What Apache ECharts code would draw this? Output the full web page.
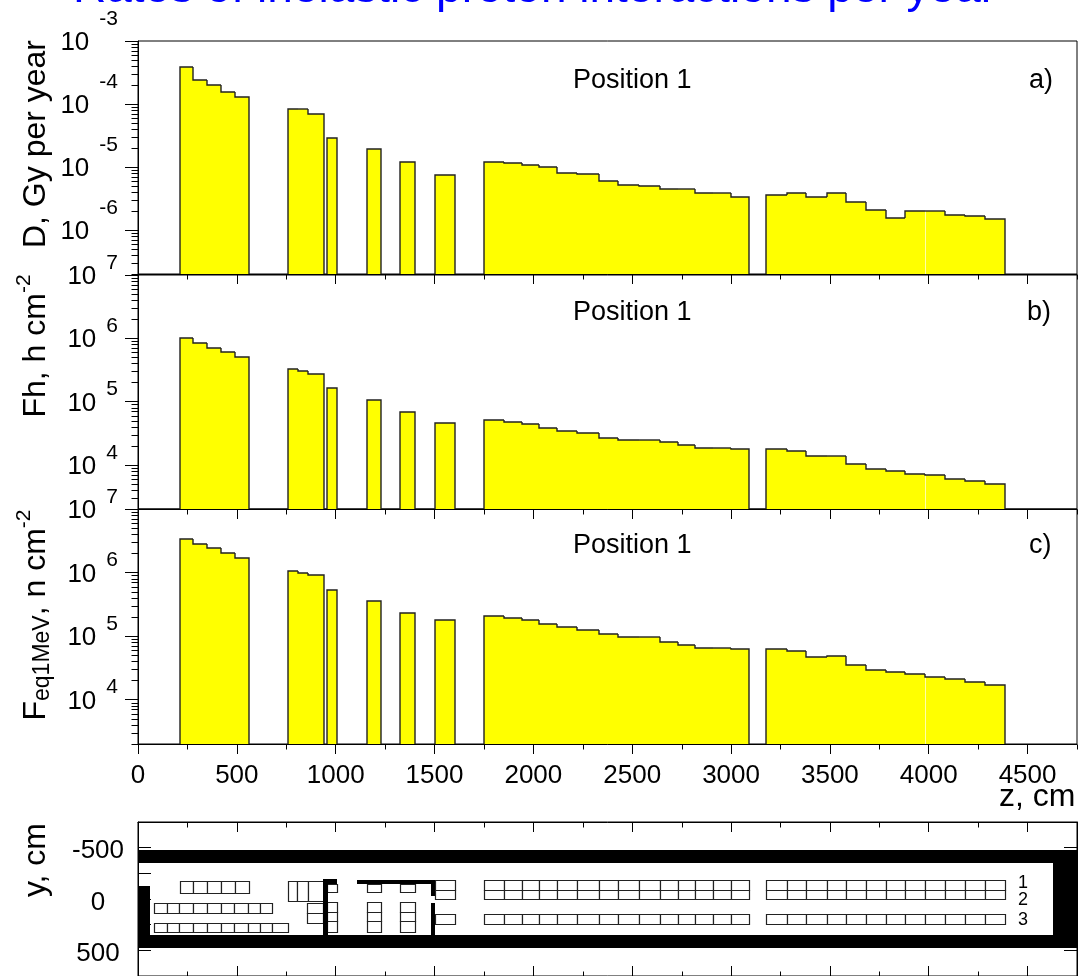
<!DOCTYPE html>
<html>
<head>
<meta charset="utf-8">
<style>html,body{margin:0;padding:0;background:#fff}#main{width:1078px;height:976px}</style>
<script src="https://cdn.jsdelivr.net/npm/echarts@6/dist/echarts.min.js"></script>
</head>
<body>
<div id="main"></div>
<script>
var dom = document.getElementById('main');
var myChart = echarts.init(dom, null, { renderer: 'canvas' });

// detector blocks along z, cm
const binEdges = [
  [210, 280, 350, 420, 490, 560],
  [760, 810, 860, 940],
  [955, 1005],
  [1157, 1228],
  [1326, 1399],
  [1502, 1603],
  [1750, 1850, 1940, 2030, 2120, 2220, 2330, 2430, 2535, 2640, 2730, 2820, 2910, 3000, 3090],
  [3178, 3282, 3380, 3483, 3582, 3683, 3783, 3882, 3983, 4082, 4185, 4283, 4385]
];
const dose = [
  [3.9e-4, 2.38e-4, 1.98e-4, 1.53e-4, 1.29e-4],
  [8.2e-5, 8.2e-5, 6.9e-5],
  [2.9e-5],
  [1.95e-5],
  [1.2e-5],
  [7.5e-6],
  [1.2e-5, 1.14e-5, 1.09e-5, 9.9e-6, 7.9e-6, 7.8e-6, 6.0e-6, 5.2e-6, 4.9e-6, 4.4e-6, 4.5e-6, 3.9e-6, 3.8e-6, 3.3e-6],
  [3.6e-6, 3.8e-6, 3.3e-6, 3.8e-6, 2.8e-6, 2.07e-6, 1.57e-6, 2.03e-6, 2.03e-6, 1.75e-6, 1.67e-6, 1.48e-6]
];
const hadrons = [
  [1.0e6, 8.4e5, 7.1e5, 6.0e5, 5.1e5],
  [3.26e5, 3.0e5, 2.77e5],
  [1.64e5],
  [1.06e5],
  [6.9e4],
  [4.5e4],
  [5.1e4, 4.7e4, 4.45e4, 3.8e4, 3.4e4, 3.16e4, 2.64e4, 2.43e4, 2.43e4, 2.28e4, 2.05e4, 1.84e4, 1.84e4, 1.8e4],
  [1.8e4, 1.63e4, 1.37e4, 1.37e4, 1.03e4, 8.5e3, 8.1e3, 7.2e3, 6.8e3, 5.9e3, 5.45e3, 4.9e3]
];
const neutrons = [
  [3.4e6, 2.8e6, 2.39e6, 2.04e6, 1.7e6],
  [1.07e6, 9.7e5, 9.3e5],
  [5.4e5],
  [3.6e5],
  [2.3e5],
  [1.82e5],
  [2.05e5, 1.9e5, 1.77e5, 1.53e5, 1.38e5, 1.25e5, 1.06e5, 9.7e4, 9.7e4, 8.1e4, 7.3e4, 6.4e4, 6.4e4, 6.2e4],
  [6.2e4, 5.8e4, 4.75e4, 4.9e4, 3.56e4, 2.93e4, 2.72e4, 2.5e4, 2.3e4, 2.09e4, 1.87e4, 1.72e4]
];

const zMajor = [0, 500, 1000, 1500, 2000, 2500, 3000, 3500, 4000, 4500];
const zMinor = [250, 750, 1250, 1750, 2250, 2750, 3250, 3750, 4250, 4750];
const doseDecades = [1e-3, 1e-4, 1e-5, 1e-6];
const fluxDecades = [1e7, 1e6, 1e5, 1e4];
const layoutTicks = [-500, -250, 0, 250, 500];
const layoutLabels = [-500, 0, 500];
const seamZ = 3983;

// tunnel walls and shielding in the layout panel: z0, y0, z1, y1
const walls = [
  [0, -480, 4750, -350],
  [0, 350, 4750, 480],
  [0, -125, 60, 350],
  [4630, -480, 4750, 480],
  [938, -190, 959, 350],
  [938, -190, 1005, -150],
  [1106, -184, 1504, -148],
  [1481, -184, 1504, -32],
  [1481, 39, 1504, 350]
];
// rows of detector boxes: z edges, then y bounds of each row
const lowerEdges = [82, 145, 209, 279, 349, 419, 488, 558, 619, 680, 758];
const boxRows = [
  { edges: binEdges[0], y: [-171, -58] },
  { edges: lowerEdges.slice(0, 10), y: [42, 136] },
  { edges: lowerEdges, y: [235, 326] },
  { edges: [760, 803, 860, 940], y: [-171, 16] },
  { edges: [857, 938], y: [42, 136] },
  { edges: [857, 938], y: [136, 235] },
  { edges: binEdges[2], y: [-145, -65] },
  { edges: binEdges[2], y: [32, 123] },
  { edges: binEdges[2], y: [123, 216] },
  { edges: binEdges[2], y: [216, 326] },
  { edges: binEdges[3], y: [-145, -65] },
  { edges: binEdges[3], y: [32, 123] },
  { edges: binEdges[3], y: [123, 216] },
  { edges: binEdges[3], y: [216, 326] },
  { edges: binEdges[4], y: [-145, -65] },
  { edges: binEdges[4], y: [32, 123] },
  { edges: binEdges[4], y: [123, 216] },
  { edges: binEdges[4], y: [216, 326] },
  { edges: binEdges[5], y: [-181, -90] },
  { edges: binEdges[5], y: [-90, 3] },
  { edges: binEdges[5], y: [148, 242] },
  { edges: binEdges[6], y: [-181, -90] },
  { edges: binEdges[6], y: [-90, 3] },
  { edges: binEdges[6], y: [148, 242] },
  { edges: binEdges[7], y: [-181, -90] },
  { edges: binEdges[7], y: [-90, 3] },
  { edges: binEdges[7], y: [148, 242] }
];

const FONT = '"Liberation Sans", Arial, sans-serif';
const zMax = 4750;
const panels = [
  { top: 41, height: 233, min: 2e-7, max: 1e-3, decades: doseDecades, values: dose },
  { top: 275, height: 234, min: 2e3, max: 1e7, decades: fluxDecades, values: hadrons },
  { top: 509, height: 235, min: 2e3, max: 1e7, decades: fluxDecades, values: neutrons }
];

function minorDecades(min, max) {
  var out = [];
  for (var e = Math.floor(Math.log10(min)); e < Math.log10(max); e++) {
    for (var m = 2; m < 10; m++) {
      var v = m * Math.pow(10, e);
      if (v > min * 0.999) out.push(v);
    }
  }
  return out;
}

function histogramSeries(idx, panel) {
  var rows = [];
  panel.values.forEach(function (block, b) {
    block.forEach(function (v, i) {
      rows.push([binEdges[b][i], v, binEdges[b][i + 1], i ? block[i - 1] : panel.min, i === block.length - 1 ? 1 : 0]);
    });
  });
  return {
    type: 'custom',
    xAxisIndex: idx,
    yAxisIndex: idx,
    silent: true,
    clip: false,
    encode: { x: 0, y: 1 },
    data: rows,
    renderItem: function (params, api) {
      var a = api.coord([api.value(0), api.value(1)]);
      var b = api.coord([api.value(2), panel.min]);
      var prev = api.coord([api.value(0), api.value(3)]);
      var x0 = Math.round(a[0]), x1 = Math.round(b[0]), y = Math.round(a[1]);
      var line = [[x0, Math.round(prev[1])], [x0, y], [x1, y]];
      if (api.value(4)) line.push([x1, Math.round(b[1])]);
      var kids = [
        { type: 'rect', shape: { x: x0, y: y, width: x1 - x0, height: Math.round(b[1]) - y }, style: { fill: '#ffff00' } }
      ];
      // faint gap between two bins, it is in the original too
      if (api.value(0) === seamZ) {
        kids.push({ type: 'line', shape: { x1: x0 + 0.5, y1: y, x2: x0 + 0.5, y2: Math.round(b[1]) }, style: { stroke: '#ffffa8', lineWidth: 1 } });
      }
      kids.push({ type: 'polyline', shape: { points: line }, style: { stroke: '#222', lineWidth: 1.4, fill: null } });
      return { type: 'group', children: kids };
    }
  };
}

function tickSeries(xIdx, yIdx, rows, dx, dy) {
  return {
    type: 'custom',
    xAxisIndex: xIdx,
    yAxisIndex: yIdx,
    silent: true,
    clip: false,
    encode: { x: 0, y: 1 },
    data: rows,
    renderItem: function (params, api) {
      var p = api.coord([api.value(0), api.value(1)]);
      var x = Math.round(p[0]) + 0.5, y = Math.round(p[1]) + 0.5;
      return { type: 'line', shape: { x1: x, y1: y, x2: x + dx, y2: y + dy }, style: { stroke: '#000', lineWidth: 1 } };
    }
  };
}

function rectSeries(rows, fill, stroke) {
  return {
    type: 'custom',
    xAxisIndex: 3,
    yAxisIndex: 3,
    silent: true,
    clip: true,
    encode: { x: [0, 2], y: [1, 3] },
    data: rows,
    renderItem: function (params, api) {
      var a = api.coord([api.value(0), api.value(1)]);
      var b = api.coord([api.value(2), api.value(3)]);
      var x0 = Math.round(a[0]), y0 = Math.round(a[1]), x1 = Math.round(b[0]), y1 = Math.round(b[1]);
      return {
        type: 'rect',
        shape: { x: x0 + (stroke ? 0.5 : 0), y: y0 + (stroke ? 0.5 : 0), width: x1 - x0, height: y1 - y0 },
        style: { fill: fill, stroke: stroke, lineWidth: stroke ? 1.2 : 0 }
      };
    }
  };
}

var boxes = [];
boxRows.forEach(function (row) {
  for (var i = 0; i + 1 < row.edges.length; i++) {
    boxes.push([row.edges[i], row.y[0], row.edges[i + 1], row.y[1]]);
  }
});

function xAxisFor(idx, extra) {
  return Object.assign({
    type: 'value',
    gridIndex: idx,
    min: 0,
    max: zMax,
    splitLine: { show: false },
    axisLine: { onZero: false, lineStyle: { color: '#000', width: 1 } },
    axisTick: { show: true, length: 10, customValues: zMajor, lineStyle: { color: '#000', width: 1 } },
    axisLabel: { show: false }
  }, extra);
}

function logLabel(value) {
  var e = Math.round(Math.log10(value));
  return e < 0 ? '{b|10}{n|' + e + '}' : '{b|10}{p|' + e + '}';
}

var xAxes = panels.map(function (p, i) { return xAxisFor(i, {}); });
xAxes[2].axisLabel = {
  show: true, customValues: zMajor, margin: 19, color: '#000', fontFamily: FONT, fontSize: 26,
  formatter: function (v) { return String(v); }
};
xAxes.push(xAxisFor(3, { position: 'top', axisTick: { show: true, inside: true, length: 10, customValues: zMajor, lineStyle: { color: '#000' } } }));
xAxes.push(xAxisFor(3, { position: 'bottom', axisTick: { show: true, inside: true, length: 10, customValues: zMajor, lineStyle: { color: '#000' } } }));

var yAxes = panels.map(function (p, i) {
  return {
    type: 'log',
    logBase: 10,
    gridIndex: i,
    min: p.min,
    max: p.max,
    splitLine: { show: false },
    minorSplitLine: { show: false },
    axisLine: { onZero: false, lineStyle: { color: '#000', width: 1 } },
    axisTick: { show: true, length: 13, customValues: p.decades, lineStyle: { color: '#000', width: 1 } },
    axisLabel: {
      show: true,
      customValues: p.decades,
      margin: 20,
      color: '#000',
      fontFamily: FONT,
      formatter: logLabel,
      rich: {
        b: { fontSize: 26, fontFamily: FONT, color: '#000', padding: [4, 10, 0, 0] },
        n: { fontSize: 21, fontFamily: FONT, color: '#000', padding: [0, 0, 44, 0] },
        p: { fontSize: 21, fontFamily: FONT, color: '#000', padding: [0, 0, 24, 0] }
      }
    }
  };
});
yAxes.push({
  type: 'value',
  gridIndex: 3,
  min: -750,
  max: 750,
  inverse: true,
  splitLine: { show: false },
  axisLine: { onZero: false, lineStyle: { color: '#000', width: 1 } },
  axisTick: { show: true, inside: true, length: 13, customValues: layoutTicks, lineStyle: { color: '#000' } },
  axisLabel: {
    show: true, customValues: layoutLabels, margin: 40, align: 'center', color: '#000', fontFamily: FONT,
    formatter: function (v) { return '{v|' + v + '}'; },
    rich: { v: { fontSize: 26, fontFamily: FONT, color: '#000', padding: [7, 0, 0, 0] } }
  }
});
yAxes.push({
  type: 'value',
  gridIndex: 3,
  position: 'right',
  min: -750,
  max: 750,
  inverse: true,
  splitLine: { show: false },
  axisLine: { onZero: false, lineStyle: { color: '#000', width: 1 } },
  axisTick: { show: true, inside: true, length: 13, customValues: layoutTicks, lineStyle: { color: '#000' } },
  axisLabel: { show: false }
});

var series = [];
panels.forEach(function (p, i) {
  series.push(histogramSeries(i, p));
  series.push(tickSeries(i, i, zMinor.map(function (z) { return [z, p.min]; }), 0, 5));
  series.push(tickSeries(i, i, minorDecades(p.min, p.max).map(function (v) { return [0, v]; }), -7, 0));
});
series.push(rectSeries(boxes, '#fff', '#222'));
series.push(rectSeries(walls, '#000', null));
series.push(tickSeries(3, 3, zMinor.map(function (z) { return [z, -750]; }), 0, 5));
series.push(tickSeries(3, 3, zMinor.map(function (z) { return [z, 750]; }), 0, -5));

function label(text, x, y, size, extra) {
  return {
    type: 'text',
    x: x,
    y: y,
    rotation: extra && extra.rotation || 0,
    silent: true,
    style: Object.assign({ text: text, fontFamily: FONT, fontSize: size, fill: '#000', align: 'left', verticalAlign: 'middle' }, extra && extra.style)
  };
}
function vertical(text, x, y, rich) {
  return label(text, x, y, 32, { rotation: Math.PI / 2, style: { align: 'center', rich: rich } });
}
var supRich = {
  s: { fontSize: 21, fontFamily: FONT, padding: [0, 0, 24, 0] },
  t: { fontSize: 23, fontFamily: FONT, padding: [14, 0, 0, 0] }
};

var option = {
  animation: false,
  backgroundColor: '#fff',
  grid: panels.map(function (p) {
    return { left: 138, width: 939, top: p.top, height: p.height, show: true, borderColor: '#000', borderWidth: 1, backgroundColor: 'transparent' };
  }).concat([{ left: 138, width: 939, top: 822, height: 155, show: true, borderColor: '#000', borderWidth: 1, backgroundColor: 'transparent' }]),
  xAxis: [xAxes[0], xAxes[1], xAxes[2], xAxes[3], xAxes[4]],
  yAxis: yAxes,
  series: series,
  graphic: [
    label('Rates of inelastic proton interactions per year', 73, -11, 46, { style: { fill: '#0000ff' } }),
    label('Position 1', 573, 81, 27),
    label('Position 1', 573, 313, 27),
    label('Position 1', 573, 546, 27),
    label('a)', 1029, 81, 27),
    label('b)', 1027, 313, 27),
    label('c)', 1029, 546, 27),
    vertical('D, Gy per year', 36, 144),
    vertical('Fh, h cm{s|-2}', 36, 346, supRich),
    vertical('F{t|eq1MeV}, n cm{s|-2}', 36, 615, supRich),
    vertical('y, cm', 36, 860),
    label('z, cm', 999, 797, 32),
    label('1', 1018, 883, 18),
    label('2', 1018, 900, 18),
    label('3', 1018, 920, 18)
  ]
};

myChart.setOption(option);
window.addEventListener('resize', myChart.resize);
</script>
</body>
</html>
